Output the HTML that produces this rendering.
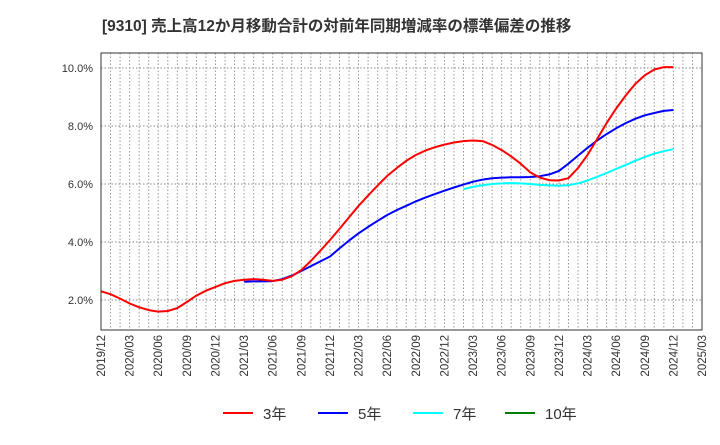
<!DOCTYPE html>
<html><head><meta charset="utf-8"><style>
body{margin:0;background:#fff;width:720px;height:440px;overflow:hidden}
svg{font-family:"Liberation Sans","Noto Sans CJK JP",sans-serif}
</style></head><body>
<svg id="c" width="720" height="440">
<text x="102" y="31" font-size="15.5" font-weight="bold" fill="#333">[9310]  売上高12か月移動合計の対前年同期増減率の標準偏差の推移</text>
<g id="grid"></g><g id="series"></g><g id="axes"></g>
<g>
<g><line x1="223" y1="413" x2="253" y2="413" stroke="#ff0000" stroke-width="2"/><text x="263" y="419" font-size="15" fill="#333">3年</text></g>
<g><line x1="318" y1="413" x2="348" y2="413" stroke="#0000ff" stroke-width="2"/><text x="358" y="419" font-size="15" fill="#333">5年</text></g>
<g><line x1="413" y1="413" x2="443" y2="413" stroke="#00ffff" stroke-width="2"/><text x="453" y="419" font-size="15" fill="#333">7年</text></g>
<g><line x1="505" y1="413" x2="535" y2="413" stroke="#008000" stroke-width="2"/><text x="545" y="419" font-size="15" fill="#333">10年</text></g>
</g>
</svg>
<script>
const xLabels=["2019/12","2020/03","2020/06","2020/09","2020/12","2021/03","2021/06","2021/09","2021/12","2022/03","2022/06","2022/09","2022/12","2023/03","2023/06","2023/09","2023/12","2024/03","2024/06","2024/09","2024/12","2025/03"];
const yTicks=[2,4,6,8,10];
const s3=[2.30,2.20,2.05,1.88,1.75,1.65,1.60,1.62,1.72,1.93,2.15,2.32,2.45,2.58,2.66,2.70,2.72,2.70,2.66,2.70,2.82,3.03,3.35,3.70,4.07,4.45,4.85,5.25,5.60,5.95,6.28,6.55,6.80,7.00,7.15,7.27,7.36,7.43,7.48,7.50,7.48,7.35,7.17,6.95,6.70,6.40,6.22,6.13,6.12,6.20,6.55,7.00,7.55,8.10,8.60,9.05,9.45,9.75,9.95,10.03,10.03];
const s5Start=15;
const s5=[2.63,2.64,2.64,2.65,2.72,2.84,3.00,3.17,3.33,3.50,3.78,4.05,4.30,4.52,4.73,4.93,5.10,5.25,5.40,5.53,5.65,5.77,5.88,5.98,6.08,6.15,6.20,6.22,6.23,6.23,6.24,6.27,6.33,6.45,6.70,6.98,7.25,7.50,7.72,7.92,8.10,8.25,8.37,8.45,8.52,8.55];
const s7Start=38;
const s7=[5.82,5.90,5.96,6.00,6.02,6.03,6.02,6.00,5.97,5.95,5.94,5.96,6.02,6.12,6.25,6.38,6.52,6.66,6.80,6.93,7.05,7.13,7.20];
const L=101,R=702,T=53,B=330;
const X=i=>L+i*(R-L)/63;
const Y=v=>300-(v-2)*29;
const NS="http://www.w3.org/2000/svg";
function mk(t,p,a){const e=document.createElementNS(NS,t);for(const k in a)e.setAttribute(k,a[k]);p.appendChild(e);return e;}
const g=document.getElementById('grid'),ax=document.getElementById('axes'),sg=document.getElementById('series');
for(let i=1;i<63;i++){const l=mk('line',g,{x1:X(i),x2:X(i),y1:T,y2:B,stroke:'#999','stroke-dasharray':'1.5,2','stroke-width':1});

}
yTicks.forEach(v=>{const l=mk('line',g,{x1:L,x2:R,y1:Y(v),y2:Y(v),stroke:'#888','stroke-dasharray':'1.5,2','stroke-width':1});


const t=mk('text',ax,{x:L-8,y:Y(v)+4,'text-anchor':'end','font-size':11,fill:'#333'});t.textContent=v.toFixed(1)+'%';

});
xLabels.forEach((s,k)=>{const x=X(k*3);const t=mk('text',ax,{x:0,y:0,transform:`translate(${x+4},${B+5}) rotate(-90)`,'text-anchor':'end','font-size':11.5,fill:'#333'});t.textContent=s;

});
const f=mk('rect',ax,{x:L,y:T,width:R-L,height:B-T,fill:'none',stroke:'#333','stroke-width':1});


function draw(arr,start,col,name){const d=arr.map((v,i)=>(i?'L':'M')+X(start+i).toFixed(1)+','+Y(v).toFixed(1)).join(' ');
const p=mk('path',sg,{d:d,fill:'none',stroke:col,'stroke-width':2,'stroke-linejoin':'round'});

}
draw(s7,s7Start,'#00ffff','series-7y');
draw(s5,s5Start,'#0000ff','series-5y');
draw(s3,0,'#ff0000','series-3y');
</script>
</body></html>
